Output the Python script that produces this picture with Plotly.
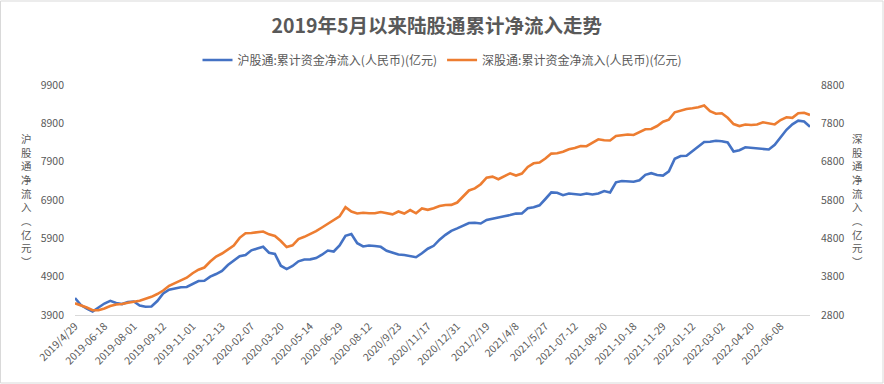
import plotly.graph_objects as go

# x-axis tick labels (every 5th sample)
tick_labels = ["2019/4/29", "2019-06-18", "2019-08-01", "2019-09-12", "2019-11-01",
               "2019-12-13", "2020-02-07", "2020-03-20", "2020-05-14", "2020-06-29",
               "2020-08-12", "2020/9/23", "2020/11/17", "2020/12/31", "2021/2/19",
               "2021/4/8", "2021/5/27", "2021-07-12", "2021-08-20", "2021-10-18",
               "2021-11-29", "2022-01-12", "2022-03-02", "2022-04-20", "2022-06-08"]
samples_per_tick = 5

# 沪股通 cumulative net inflow (left axis, 亿元)
sh_values = [4343, 4160, 4069, 3991, 4095, 4199, 4270, 4212, 4186, 4238,
             4252, 4147, 4116, 4121, 4265, 4460, 4562, 4596, 4622, 4630,
             4708, 4786, 4794, 4901, 4969, 5052, 5204, 5326, 5433, 5465,
             5587, 5634, 5681, 5525, 5491, 5186, 5099, 5178, 5300, 5347,
             5352, 5386, 5472, 5582, 5556, 5713, 5968, 6013, 5773, 5687,
             5713, 5700, 5679, 5577, 5522, 5478, 5465, 5444, 5407, 5509,
             5629, 5705, 5864, 5992, 6096, 6161, 6234, 6300, 6307, 6287,
             6380, 6409, 6430, 6477, 6508, 6545, 6550, 6683, 6709, 6761,
             6926, 7098, 7090, 7025, 7069, 7056, 7038, 7069, 7043, 7069,
             7134, 7095, 7361, 7395, 7377, 7377, 7416, 7557, 7599, 7552,
             7536, 7648, 7975, 8048, 8055, 8178, 8280, 8413, 8421, 8444,
             8431, 8400, 8165, 8199, 8275, 8256, 8249, 8225, 8217, 8340,
             8522, 8731, 8875, 8969, 8948, 8812]

# 深股通 cumulative net inflow (right axis, 亿元)
sz_values = [3105, 3055, 2995, 2925, 2922, 2969, 3034, 3076, 3086, 3120,
             3138, 3170, 3222, 3274, 3347, 3439, 3561, 3642, 3702, 3772,
             3890, 3981, 4039, 4195, 4326, 4404, 4508, 4613, 4813, 4931,
             4939, 4952, 4978, 4905, 4860, 4730, 4573, 4618, 4782, 4840,
             4913, 4986, 5082, 5181, 5260, 5374, 5612, 5500, 5450, 5468,
             5455, 5453, 5487, 5447, 5427, 5500, 5447, 5539, 5453, 5578,
             5544, 5586, 5643, 5669, 5672, 5734, 5878, 6048, 6102, 6212,
             6384, 6410, 6342, 6410, 6496, 6439, 6491, 6661, 6757, 6778,
             6882, 7010, 7018, 7057, 7122, 7156, 7209, 7204, 7300, 7383,
             7357, 7352, 7469, 7495, 7508, 7495, 7574, 7644, 7652, 7730,
             7842, 7897, 8088, 8140, 8174, 8192, 8218, 8265, 8116, 8049,
             8062, 7944, 7782, 7730, 7769, 7756, 7769, 7827, 7790, 7772,
             7887, 7957, 7944, 8062, 8075, 8017]

left_ticks = [3900, 4900, 5900, 6900, 7900, 8900, 9900]
right_ticks = [2800, 3800, 4800, 5800, 6800, 7800, 8800]

sh_name = "沪股通:累计资金净流入(人民币)(亿元)"
sz_name = "深股通:累计资金净流入(人民币)(亿元)"
title_text = "2019年5月以来陆股通累计净流入走势"
left_title = "沪股通净流入︵亿元︶"
right_title = "深股通净流入︵亿元︶"

FONT = "Noto Sans CJK SC, Noto Sans, sans-serif"
GREY = "#595959"

x_idx = list(range(len(sh_values)))
tick_pos = [i * samples_per_tick for i in range(len(tick_labels))]

fig = go.Figure()
fig.add_trace(go.Scatter(x=x_idx, y=sh_values, mode="lines", name=sh_name,
                         line=dict(color="#4472C4", width=2.6), yaxis="y"))
fig.add_trace(go.Scatter(x=x_idx, y=sz_values, mode="lines", name=sz_name,
                         line=dict(color="#ED7D31", width=2.6), yaxis="y2"))

W, H = 884, 384
ml, mr, mt, mb = 75, 74, 85, 69
pw, ph = W - ml - mr, H - mt - mb

fig.update_layout(
    width=W, height=H,
    margin=dict(l=ml, r=mr, t=mt, b=mb, autoexpand=False),
    paper_bgcolor="white", plot_bgcolor="white",
    font=dict(family=FONT, color=GREY, size=10.5),
    title=dict(text="<b>" + title_text + "</b>", x=0.494, xanchor="center",
               y=1 - 26 / H, yanchor="middle",
               font=dict(size=19.5, color=GREY, family=FONT)),
    showlegend=True,
    legend=dict(orientation="h", x=0.5, xanchor="center", y=1 + 25 / ph, yanchor="middle",
                font=dict(size=12, color=GREY), itemwidth=30, bgcolor="rgba(0,0,0,0)"),
    xaxis=dict(range=[0, len(sh_values) - 1], tickmode="array", tickvals=tick_pos,
               ticktext=tick_labels, tickangle=-45, showgrid=False, zeroline=False,
               showline=True, linecolor="#D9D9D9", linewidth=1, ticks="", automargin=False,
               tickfont=dict(size=10.5, color=GREY)),
    yaxis=dict(range=[left_ticks[0], left_ticks[-1]], tickmode="array", tickvals=left_ticks,
               ticktext=[str(v) for v in left_ticks], automargin=False,
               showgrid=False, zeroline=False, showline=False, ticks="",
               ticklabelstandoff=10, tickfont=dict(size=10.5, color=GREY)),
    yaxis2=dict(range=[right_ticks[0], right_ticks[-1]], tickmode="array", tickvals=right_ticks,
                ticktext=[str(v) for v in right_ticks], automargin=False,
                overlaying="y", side="right", showgrid=False, zeroline=False,
                showline=False, ticks="", ticklabelstandoff=10,
                tickfont=dict(size=10.5, color=GREY)),
    hovermode="x unified",
)

# vertical (stacked) axis titles
fig.add_annotation(text="<br>".join(left_title), xref="paper", yref="paper",
                   x=-48 / pw, y=0.5, xanchor="center", yanchor="middle", showarrow=False,
                   font=dict(size=10.5, color=GREY, family=FONT))
fig.add_annotation(text="<br>".join(right_title), xref="paper", yref="paper",
                   x=1 + 47 / pw, y=0.5, xanchor="center", yanchor="middle", showarrow=False,
                   font=dict(size=10.5, color=GREY, family=FONT))

# chart border
fig.add_shape(type="rect", xref="paper", yref="paper",
              x0=-ml / pw + 0.5 / pw, x1=1 + (mr - 1) / pw,
              y0=-(mb - 1) / ph, y1=1 + (mt - 1) / ph,
              line=dict(color="#D9D9D9", width=1), fillcolor="rgba(0,0,0,0)", layer="below")

fig.write_html("out.html", config={"displayModeBar": False},
               post_script="document.body.style.margin='0';document.body.style.overflow='hidden';")
